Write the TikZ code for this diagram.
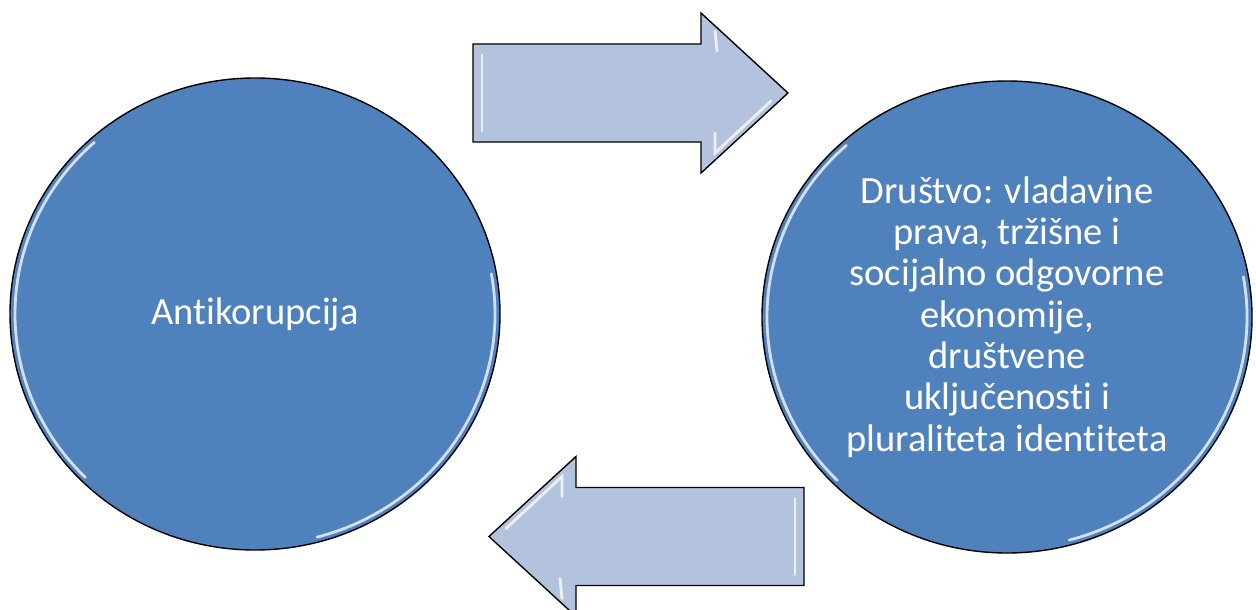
\documentclass[tikz,border=0pt]{standalone}
\usepackage{fontspec}
\setmainfont{Carlito}[Ligatures={NoCommon}]
\usepackage{xcolor}
\usetikzlibrary{shapes.geometric,positioning,calc}

\definecolor{discblue}{RGB}{79,129,189}
\definecolor{arrowblue}{RGB}{180,195,221}

\begin{document}
\begin{tikzpicture}[x=1pt, y=-1pt,
    disc/.style={ellipse, draw=black, line width=1.4pt, fill=discblue, inner sep=0pt,
                 minimum width=490pt, minimum height=472pt, text=white, align=center,
                 font=\fontsize{38.5}{41.3}\selectfont},
    shine/.style={white, line width=2.8pt, opacity=0.75, line cap=round},
    blockarrow/.pic={
        \draw[fill=arrowblue, line width=1.4pt, line join=miter]
            (0,-49) -- (228,-49) -- (228,-80) -- (315,0) -- (228,80) -- (228,49) -- (0,49) -- cycle;
        \draw[shine] (9,-38) -- (9,38);
        \draw[shine] (242,-62) -- (244,-42);
        \draw[shine] (242,40) -- (242,60) -- (298,8);
    }]
    \clip (0,0) rectangle (1256,610);

    % Left circle
    \node[disc] (anti) at (255,314) {Antikorupcija};
    % Right circle
    \node[disc] (drustvo) at (1007,317) {Društvo: vladavine\\prava, tržišne i\\socijalno odgovorne\\ekonomije,\\društvene\\uključenosti i\\pluraliteta identiteta};

    % Rim highlights
    \foreach \c in {anti, drustvo} {
        \draw[shine] ($(\c.center)+(228:240 and 231)$) arc[start angle=228, end angle=135, x radius=240, y radius=231];
        \draw[shine] ($(\c.center)+(75:240 and 231)$) arc[start angle=75, end angle=-10, x radius=240, y radius=231];
    }

    % Arrows between the circles
    \pic at (473,93) {blockarrow};
    \pic[rotate=180] at (804,536.5) {blockarrow};
\end{tikzpicture}
\end{document}
